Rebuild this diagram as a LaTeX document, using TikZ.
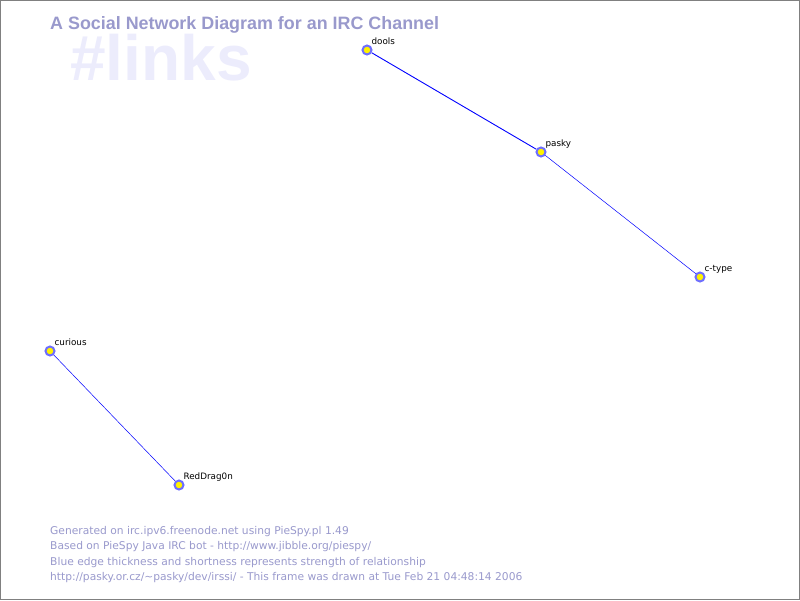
\documentclass[tikz,border=0pt]{standalone}
\usepackage{fontspec}
\setmainfont{Liberation Sans}
\newfontfamily\smallsans{DejaVu Sans}
\usepackage{tikz}
\usetikzlibrary{positioning}

\definecolor{titleblue}{RGB}{153,153,204}
\definecolor{paleblue}{RGB}{236,236,252}
\definecolor{ringblue}{RGB}{110,110,255}
\definecolor{edgeblue}{RGB}{0,0,255}

\tikzset{
  nick/.style={circle, draw=ringblue, fill=yellow, line width=2pt,
    minimum size=9pt, inner sep=0pt},
  nicklabel/.style={anchor=base west, inner sep=0pt, xshift=0.5pt, yshift=1.5pt,
    font=\smallsans\fontsize{8.8}{10}\selectfont},
  tie/.style={draw=edgeblue, line width=0.5pt},
  footer/.style={anchor=base west, inner sep=0pt, text=titleblue,
    font=\smallsans\fontsize{10.7}{13}\selectfont}
}

\begin{document}
\begin{tikzpicture}[x=1pt, y=-1pt]
  \useasboundingbox (0,0) rectangle (800,600);
  \draw[gray, line width=1pt] (0.5,0.5) rectangle (799.5,599.5);

  % channel name and title
  \node (channel) [anchor=base west, inner sep=0pt, text=paleblue,
    font=\bfseries\fontsize{64}{70}\selectfont] at (70,80) {\#links};
  \node (title) [anchor=base west, inner sep=0pt, text=titleblue,
    font=\bfseries\fontsize{17.9}{20}\selectfont] at (50,29)
    {A Social Network Diagram for an IRC Channel};

  % nicks
  \node (dools) [nick, label={[nicklabel]north east:dools}] at (367,50) {};
  \node (pasky) [nick, label={[nicklabel]north east:pasky}] at (541,152) {};
  \node (ctype) [nick, label={[nicklabel]north east:c-type}] at (700,277) {};
  \node (curious) [nick, label={[nicklabel]north east:curious}] at (50,351) {};
  \node (reddragon) [nick, label={[nicklabel]north east:RedDrag0n}] at (179,485) {};

  % edges
  \draw[tie, line width=0.9pt] (dools) -- (pasky);
  \draw[tie] (pasky) -- (ctype);
  \draw[tie] (curious) -- (reddragon);

  % footer
  \node (gen) [footer] at (50,534) {Generated on irc.ipv6.freenode.net using PieSpy.pl 1.49};
  \node (based) [footer] at (50,549.5) {Based on PieSpy Java IRC bot - http://www.jibble.org/piespy/};
  \node (legend) [footer] at (50,565) {Blue edge thickness and shortness represents strength of relationship};
  \node (drawn) [footer] at (50,580.5) {http://pasky.or.cz/\textasciitilde pasky/dev/irssi/ - This frame was drawn at Tue Feb 21 04:48:14 2006};
\end{tikzpicture}
\end{document}
